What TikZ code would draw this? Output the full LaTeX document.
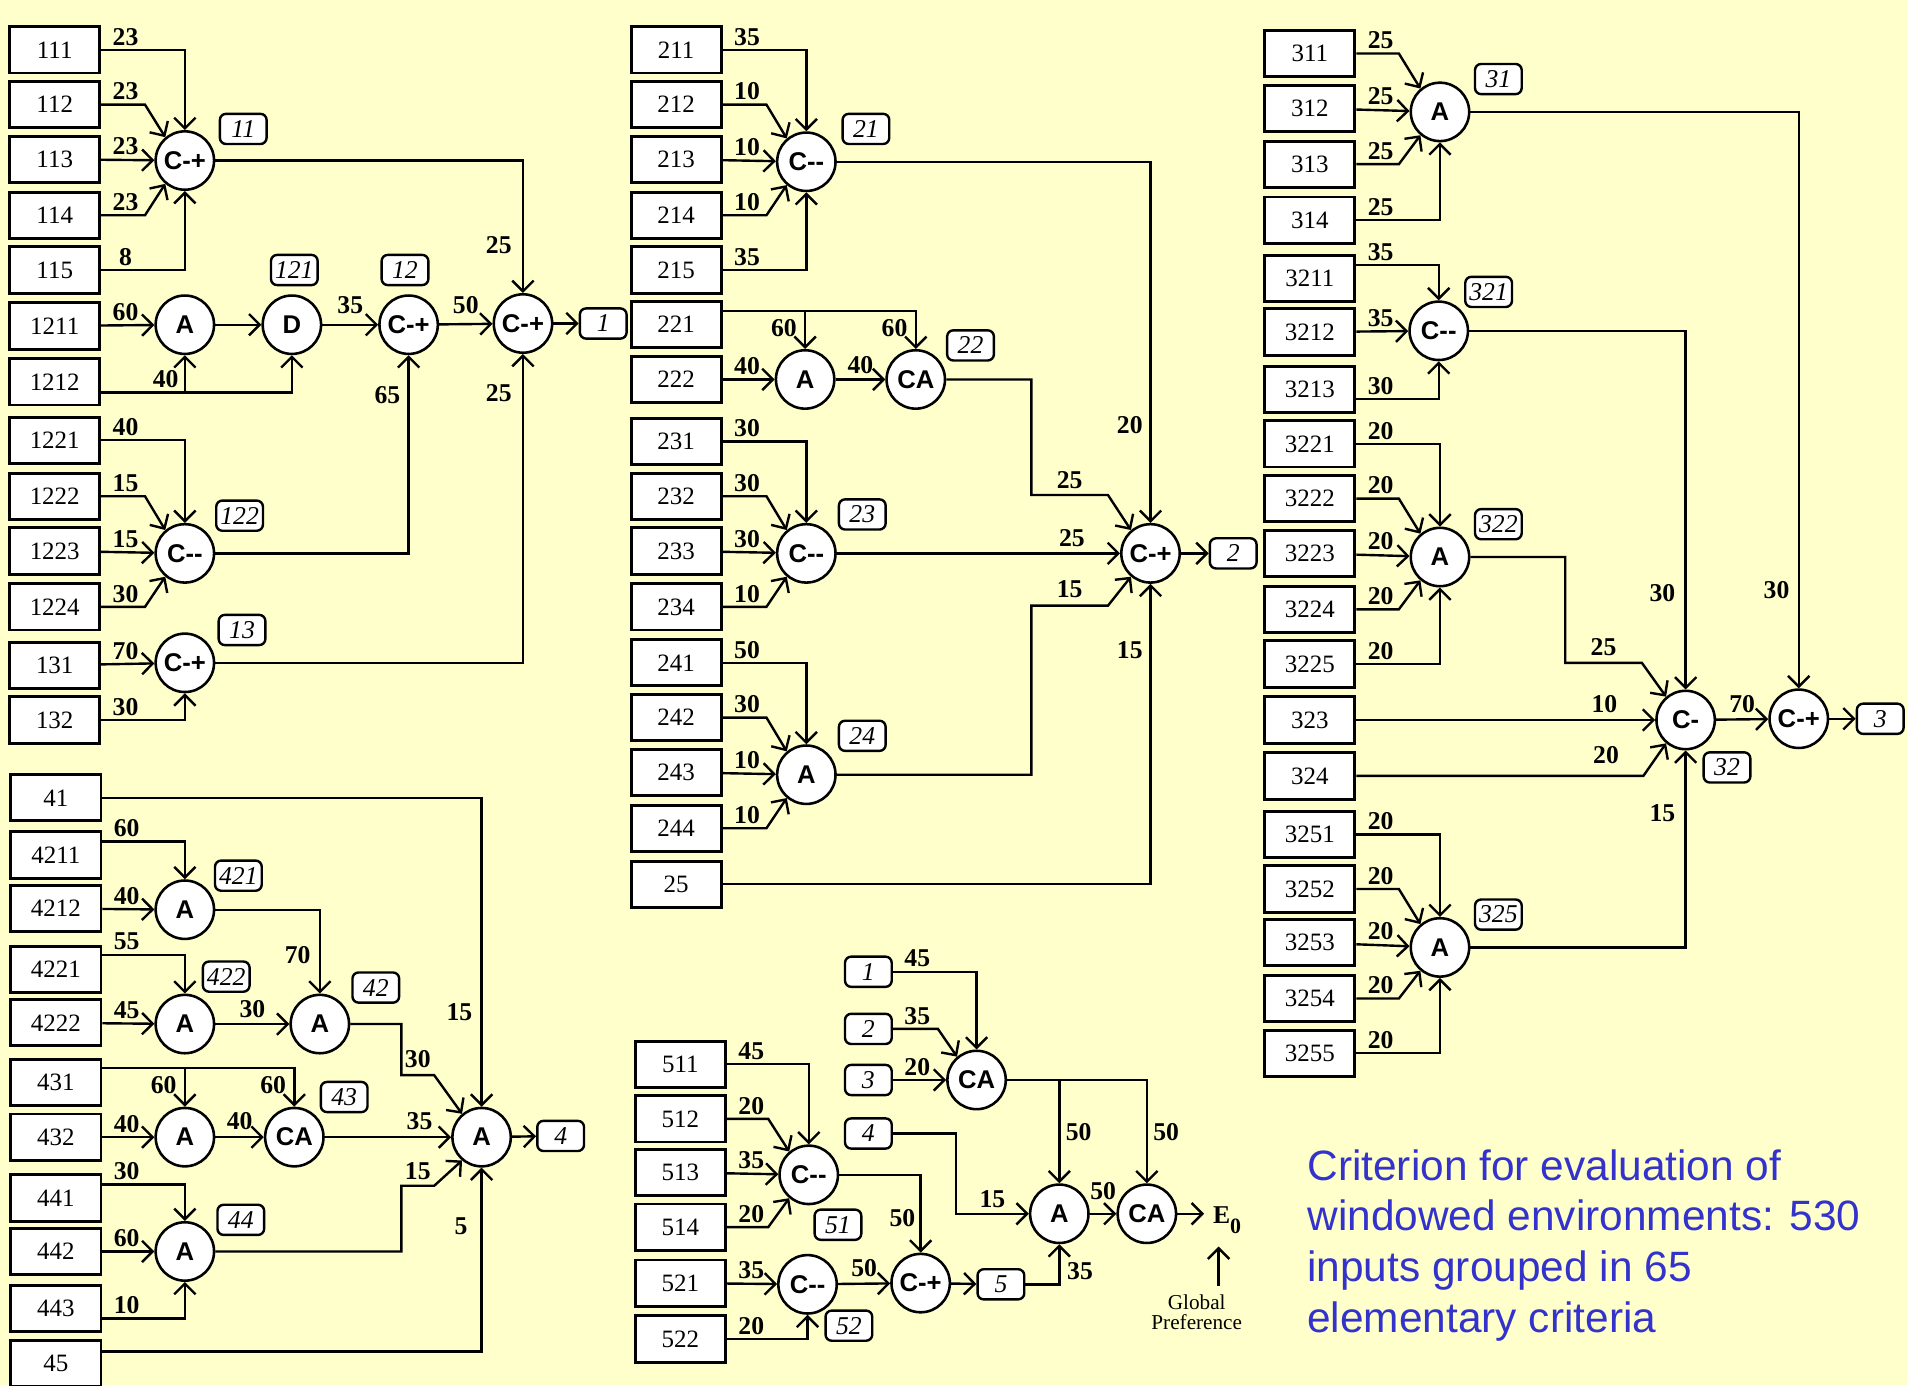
\documentclass[tikz,border=0pt]{standalone}
\usepackage{fontspec}
\setmainfont{Liberation Serif}
\setsansfont{Liberation Sans}
\usetikzlibrary{arrows.meta}
\definecolor{paper}{RGB}{255,255,204}
\definecolor{capblue}{RGB}{51,51,204}
\newcommand\critfont{\rmfamily\fontsize{7.3}{8}\selectfont}
\newcommand\wgtfont{\rmfamily\bfseries\fontsize{7.5}{8}\selectfont}
\newcommand\opfont{\sffamily\bfseries\fontsize{7.5}{8}\selectfont}
\newcommand\tagfont{\rmfamily\itshape\fontsize{7.5}{8}\selectfont}

\begin{document}
\begin{tikzpicture}[x=0.0125cm, y=-0.0125cm, line width=0.7pt, >={Straight Barb[length=1.1mm, width=2.2mm]},
	crit/.style={draw, fill=white, line width=0.85pt, minimum width=0.925cm, minimum height=0.475cm, inner sep=0pt, font=\critfont},
	oper/.style={circle, draw, fill=white, line width=0.75pt, minimum size=0.6cm, inner sep=0pt, font=\opfont},
	tagbox/.style={draw, fill=white, rounded corners=1.8pt, line width=0.7pt, minimum width=0.48cm, minimum height=0.31cm, inner sep=0pt, font=\tagfont},
	wt/.style={font=\wgtfont, inner sep=0.4pt},
	win/.style={wt, pos=0, anchor=south, xshift=2.5mm, yshift=0.2mm},
	wbl/.style={wt, pos=0, anchor=north east, xshift=-0.6mm, yshift=-0.6mm}]
	\useasboundingbox (0,0) rectangle (1568,1139);
	\fill[paper] (0,0) rectangle (1568,1139);

	% criterion 1
	\node[crit] (b111) at (45,41) {111};
	\node[crit] (b112) at (45,86) {112};
	\node[crit] (b113) at (45,131) {113};
	\node[crit] (b114) at (45,177) {114};
	\node[crit] (b115) at (45,222) {115};
	\node[crit] (b1211) at (45,268) {1211};
	\node[crit] (b1212) at (45,314) {1212};
	\node[crit] (b1221) at (45,362) {1221};
	\node[crit] (b1222) at (45,408) {1222};
	\node[crit] (b1223) at (45,453) {1223};
	\node[crit] (b1224) at (45,499) {1224};
	\node[crit] (b131) at (45,547) {131};
	\node[crit] (b132) at (45,592) {132};
	\node[oper] (o11) at (152,132) {C-+};
	\node[oper] (o121a) at (152,267) {A};
	\node[oper] (o121) at (240,267) {D};
	\node[oper] (o12) at (336,267) {C-+};
	\node[oper] (o1) at (430,266) {C-+};
	\node[oper] (o122) at (152,455) {C-{}-};
	\node[oper] (o13) at (152,545) {C-+};
	\node[tagbox] (t11) at (200,106) {11};
	\node[tagbox] (t121) at (242,222) {121};
	\node[tagbox] (t12) at (333,222) {12};
	\node[tagbox] (t122) at (197,424) {122};
	\node[tagbox] (t13) at (199,518) {13};
	\node[tagbox] (out1) at (496,266) {1};
	\draw[->] (b111) -| node[win]{23} (o11);
	\draw[->] (b112.east) -- node[win]{23} ++(36,0) -- (o11.130);
	\draw[->] (b113) -- node[win]{23} (o11);
	\draw[->] (b114.east) -- node[win]{23} ++(36,0) -- (o11.230);
	\draw[->] (b115) -| node[win]{8} (o11);
	\draw[->] (o11) -| node[wt, left=0.9mm, pos=0.82]{25} (o1);
	\draw[->] (b1211) -- node[win]{60} (o121a);
	\draw[->] (o121a) -- (o121);
	\draw[->] ([yshift=-1.1mm]b1212.east) coordinate (j1212) -| (o121);
	\draw[->] (j1212 -| o121a) -- node[wt, pos=0, anchor=south east, xshift=-0.4mm, yshift=0.2mm]{40} (o121a);
	\draw[->] (o121) -- node[wt, above=0.85mm]{35} (o12);
	\draw[->] (o12) -- node[wt, above=0.85mm]{50} (o1);
	\draw[->] (o1) -- (out1);
	\draw[->] (b1221) -| node[win]{40} (o122);
	\draw[->] (b1222.east) -- node[win]{15} ++(36,0) -- (o122.130);
	\draw[->] (b1223) -- node[win]{15} (o122);
	\draw[->] (b1224.east) -- node[win]{30} ++(36,0) -- (o122.230);
	\draw[->] (o122) -| node[wt, left=0.6mm, pos=0.9]{65} (o12);
	\draw[->] (b131) -- node[win]{70} (o13);
	\draw[->] (b132) -| node[win]{30} (o13);
	\draw[->] (o13) -| node[wt, left=0.9mm, pos=0.937]{25} (o1);

	% criterion 2
	\node[crit] (b211) at (556,41) {211};
	\node[crit] (b212) at (556,86) {212};
	\node[crit] (b213) at (556,131) {213};
	\node[crit] (b214) at (556,177) {214};
	\node[crit] (b215) at (556,222) {215};
	\node[crit] (b221) at (556,267) {221};
	\node[crit] (b222) at (556,312) {222};
	\node[crit] (b231) at (556,363) {231};
	\node[crit] (b232) at (556,408) {232};
	\node[crit] (b233) at (556,453) {233};
	\node[crit] (b234) at (556,499) {234};
	\node[crit] (b241) at (556,545) {241};
	\node[crit] (b242) at (556,590) {242};
	\node[crit] (b243) at (556,635) {243};
	\node[crit] (b244) at (556,681) {244};
	\node[crit] (b25) at (556,727) {25};
	\node[oper] (o21) at (663,133) {C-{}-};
	\node[oper] (o22a) at (662,312) {A};
	\node[oper] (o22) at (753,312) {CA};
	\node[oper] (o23) at (663,455) {C-{}-};
	\node[oper] (o24) at (663,637) {A};
	\node[oper] (o2) at (946,455) {C-+};
	\node[tagbox] (t21) at (712,106) {21};
	\node[tagbox] (t22) at (798,284) {22};
	\node[tagbox] (t23) at (709,423) {23};
	\node[tagbox] (t24) at (709,605) {24};
	\node[tagbox] (out2) at (1014,455) {2};
	\draw[->] (b211) -| node[win]{35} (o21);
	\draw[->] (b212.east) -- node[win]{10} ++(36,0) -- (o21.130);
	\draw[->] (b213) -- node[win]{10} (o21);
	\draw[->] (b214.east) -- node[win]{10} ++(36,0) -- (o21.230);
	\draw[->] (b215) -| node[win]{35} (o21);
	\draw[->] (o21) -| node[wt, left=0.55mm, pos=0.864]{20} (o2);
	\draw[->] ([yshift=1.4mm]b221.east) coordinate (j221) -| node[wbl, pos=0.5]{60} (o22);
	\draw[->] (j221 -| o22a) -- node[wbl]{60} (o22a);
	\draw[->] (b222) -- node[win]{40} (o22a);
	\draw[->] (o22a) -- node[wt, above=0.35mm]{40} (o22);
	\draw[->] (o22) -| (848,407) -- node[wt, above=0.35mm]{25} ++(63,0) -- (o2.130);
	\draw[->] (b231) -| node[win]{30} (o23);
	\draw[->] (b232.east) -- node[win]{30} ++(36,0) -- (o23.130);
	\draw[->] (b233) -- node[win]{30} (o23);
	\draw[->] (b234.east) -- node[win]{10} ++(36,0) -- (o23.230);
	\draw[->] (o23) -- node[wt, above=0.45mm, pos=0.83]{25} (o2);
	\draw[->] (b241) -| node[win]{50} (o24);
	\draw[->] (b242.east) -- node[win]{30} ++(36,0) -- (o24.130);
	\draw[->] (b243) -- node[win]{10} (o24);
	\draw[->] (b244.east) -- node[win]{10} ++(36,0) -- (o24.230);
	\draw[->] (o24) -| (848,498) -- node[wt, above=0.6mm]{15} ++(63,0) -- (o2.230);
	\draw[->] (b25) -| node[wt, left=0.55mm, pos=0.89]{15} (o2);
	\draw[->] (o2) -- (out2);

	% criterion 3
	\node[crit] (b311) at (1077,44) {311};
	\node[crit] (b312) at (1077,89) {312};
	\node[crit] (b313) at (1077,135) {313};
	\node[crit] (b314) at (1077,181) {314};
	\node[crit] (b3211) at (1077,229) {3211};
	\node[crit] (b3212) at (1077,273) {3212};
	\node[crit] (b3213) at (1077,320) {3213};
	\node[crit] (b3221) at (1077,365) {3221};
	\node[crit] (b3222) at (1077,410) {3222};
	\node[crit] (b3223) at (1077,455) {3223};
	\node[crit] (b3224) at (1077,501) {3224};
	\node[crit] (b3225) at (1077,546) {3225};
	\node[crit] (b323) at (1077,592) {323};
	\node[crit] (b324) at (1077,638) {324};
	\node[crit] (b3251) at (1077,686) {3251};
	\node[crit] (b3252) at (1077,731) {3252};
	\node[crit] (b3253) at (1077,775) {3253};
	\node[crit] (b3254) at (1077,821) {3254};
	\node[crit] (b3255) at (1077,866) {3255};
	\node[oper] (o31) at (1184,92) {A};
	\node[oper] (o321) at (1183,272) {C-{}-};
	\node[oper] (o322) at (1184,458) {A};
	\node[oper] (o325) at (1184,779) {A};
	\node[oper] (o32) at (1386,592) {C-};
	\node[oper] (o3) at (1479,591) {C-+};
	\node[tagbox] (t31) at (1232,65) {31};
	\node[tagbox] (t321) at (1224,240) {321};
	\node[tagbox] (t322) at (1232,431) {322};
	\node[tagbox] (t325) at (1232,752) {325};
	\node[tagbox] (t32) at (1420,631) {32};
	\node[tagbox] (out3) at (1546,591) {3};
	\draw[->] (b311.east) -- node[win]{25} ++(35,0) -- (o31.130);
	\draw[->] (b312) -- node[win]{25} (o31);
	\draw[->] (b313.east) -- node[win]{25} ++(35,0) -- (o31.230);
	\draw[->] (b314) -| node[win]{25} (o31);
	\draw[->] (o31) -| node[wt, left=0.7mm, pos=0.915]{30} (o3);
	\draw[->] ([yshift=1.4mm]b3211.east) -| node[win]{35} (o321);
	\draw[->] (b3212) -- node[win]{35} (o321);
	\draw[->] ([yshift=-1mm]b3213.east) -| node[win]{30} (o321);
	\draw[->] (o321) -| node[wt, left=0.8mm, pos=0.865]{30} (o32);
	\draw[->] (b3221) -| node[win]{20} (o322);
	\draw[->] (b3222.east) -- node[win]{20} ++(35,0) -- (o322.130);
	\draw[->] (b3223) -- node[win]{20} (o322);
	\draw[->] (b3224.east) -- node[win]{20} ++(35,0) -- (o322.230);
	\draw[->] (b3225) -| node[win]{20} (o322);
	\draw[->] (o322) -| (1287,545) -- node[wt, above=0.45mm]{25} ++(63,0) -- (o32.130);
	\draw[->] (b323) -- node[wt, above=0.45mm, pos=0.83]{10} (o32);
	\draw[->] (b324.east) -- node[wt, above=1mm, pos=0.87]{20} ++(236,0) -- (o32.230);
	\draw[->] (b3251) -| node[win]{20} (o325);
	\draw[->] (b3252.east) -- node[win]{20} ++(35,0) -- (o325.130);
	\draw[->] (b3253) -- node[win]{20} (o325);
	\draw[->] (b3254.east) -- node[win]{20} ++(35,0) -- (o325.230);
	\draw[->] (b3255) -| node[win]{20} (o325);
	\draw[->] (o325) -| node[wt, left=0.8mm, pos=0.84]{15} (o32);
	\draw[->] (o32) -- node[wt, above=0.45mm]{70} (o3);
	\draw[->] (o3) -- (out3);

	% criterion 4
	\node[crit] (b41) at (46,656) {41};
	\node[crit] (b4211) at (46,703) {4211};
	\node[crit] (b4212) at (46,747) {4212};
	\node[crit] (b4221) at (46,797) {4221};
	\node[crit] (b4222) at (46,841) {4222};
	\node[crit] (b431) at (46,890) {431};
	\node[crit] (b432) at (46,935) {432};
	\node[crit] (b441) at (46,985) {441};
	\node[crit] (b442) at (46,1029) {442};
	\node[crit] (b443) at (46,1076) {443};
	\node[crit] (b45) at (46,1121) {45};
	\node[oper] (o421) at (152,748) {A};
	\node[oper] (o422) at (152,842) {A};
	\node[oper] (o42) at (263,842) {A};
	\node[oper] (o43a) at (152,935) {A};
	\node[oper] (o43) at (242,935) {CA};
	\node[oper] (o44) at (152,1029) {A};
	\node[oper] (o4) at (396,935) {A};
	\node[tagbox] (t421) at (196,720) {421};
	\node[tagbox] (t422) at (186,803) {422};
	\node[tagbox] (t42) at (309,812) {42};
	\node[tagbox] (t43) at (283,902) {43};
	\node[tagbox] (t44) at (198,1003) {44};
	\node[tagbox] (out4) at (461,934) {4};
	\draw[->] (b41) -| node[wt, left=0.7mm, pos=0.847]{15} (o4);
	\draw[->] ([yshift=1.4mm]b4211.east) -| node[win]{60} (o421);
	\draw[->] (b4212) -- node[win]{40} (o421);
	\draw[->] (o421) -| node[wt, left=0.7mm, pos=0.77]{70} (o42);
	\draw[->] ([yshift=1.5mm]b4221.east) -| node[win]{55} (o422);
	\draw[->] (b4222) -- node[win]{45} (o422);
	\draw[->] (o422) -- node[wt, above=0.35mm]{30} (o42);
	\draw[->] (o42) -| (330,884) -- node[wt, above=0.45mm]{30} ++(27,0) -- (o4.130);
	\draw[->] ([yshift=1.5mm]b431.east) coordinate (j431) -| node[wbl, pos=0.5]{60} (o43);
	\draw[->] (j431 -| o43a) -- node[wbl]{60} (o43a);
	\draw[->] (b432) -- node[win]{40} (o43a);
	\draw[->] (o43a) -- node[wt, above=0.45mm]{40} (o43);
	\draw[->] (o43) -- node[wt, above=0.45mm, pos=0.75]{35} (o4);
	\draw[->] ([yshift=1.4mm]b441.east) -| node[win]{30} (o44);
	\draw[->] (b442) -- node[win]{60} (o44);
	\draw[->] ([yshift=-1mm]b443.east) -| node[win]{10} (o44);
	\draw[->] (o44) -| (330,975) -- node[wt, above=0.35mm]{15} ++(27,0) -- (o4.230);
	\draw[->] ([yshift=1.2mm]b45.east) -| node[wt, left=1.2mm, pos=0.84]{5} (o4);
	\draw[->] (o4) -- (out4);

	% criterion 5 and global preference
	\node[crit] (b511) at (559.5,875) {511};
	\node[crit] (b512) at (559.5,920) {512};
	\node[crit] (b513) at (559.5,964) {513};
	\node[crit] (b514) at (559.5,1009) {514};
	\node[crit] (b521) at (559.5,1055) {521};
	\node[crit] (b522) at (559.5,1101) {522};
	\node[oper] (o51) at (665,966) {C-{}-};
	\node[oper] (o52) at (664,1056) {C-{}-};
	\node[oper] (o5) at (757,1055) {C-+};
	\node[oper] (ca1) at (803,888) {CA};
	\node[oper] (ag) at (871,998) {A};
	\node[oper] (ca0) at (943,998) {CA};
	\node[tagbox] (t51) at (689,1007) {51};
	\node[tagbox] (t52) at (698,1090) {52};
	\node[tagbox] (out5) at (823,1056) {5};
	\node[tagbox] (in1) at (714,799) {1};
	\node[tagbox] (in2) at (714,846) {2};
	\node[tagbox] (in3) at (714,888) {3};
	\node[tagbox] (in4) at (714,932) {4};
	\node[font=\wgtfont, anchor=base west, inner sep=0pt, inner xsep=0.8mm] (e0) at (990,1006) {E\raisebox{-1mm}{\fontsize{6.4}{7}\selectfont 0}};
	\node[align=center, font=\rmfamily\fontsize{6.2}{5.6}\selectfont, inner sep=0pt, anchor=north] (gp) at (984,1064) {Global\\Preference};
	\coordinate (gparr) at (1002,1057);
	\draw[->] (b511) -| node[win]{45} (o51);
	\draw[->] (b512.east) -- node[win]{20} ++(34,0) -- (o51.130);
	\draw[->] (b513) -- node[win]{35} (o51);
	\draw[->] (b514.east) -- node[win]{20} ++(34,0) -- (o51.230);
	\draw[->] (o51) -| node[wt, left=0.3mm, pos=0.78]{50} (o5);
	\draw[->] (b521) -- node[win]{35} (o52);
	\draw[->] (b522) -| node[win]{20} (o52);
	\draw[->] (o52) -- node[wt, above=0.45mm]{50} (o5);
	\draw[->] (o5) -- (out5);
	\draw[->] (out5) -| node[wt, right=0.55mm, pos=0.66]{35} (ag);
	\draw[->] (in1) -| node[win]{45} (ca1);
	\draw[->] (in2.east) -- node[win]{35} ++(37,0) -- (ca1.130);
	\draw[->] (in3) -- node[win]{20} (ca1);
	\draw[->] (ca1) -| node[wt, right=0.4mm, pos=0.75]{50} (ca0);
	\draw[->] (ca1 -| ag) -- node[wt, right=0.4mm]{50} (ag);
	\draw[->] (in4) -| (786,998) -- node[wt, above=0.35mm]{15} (ag);
	\draw[->] (ag) -- node[wt, above=1.2mm]{50} (ca0);
	\draw[->] (ca0) -- (ca0 -| e0.west);
	\draw[->] (gparr) -- ++(0,-32);

	\node[anchor=north west, align=left, inner sep=0pt, text=capblue, font=\sffamily\fontsize{12.4}{14.9}\selectfont] (cap) at (1074,944) {Criterion for evaluation of\\windowed environments: 530\\inputs grouped in 65\\elementary criteria};
\end{tikzpicture}
\end{document}
